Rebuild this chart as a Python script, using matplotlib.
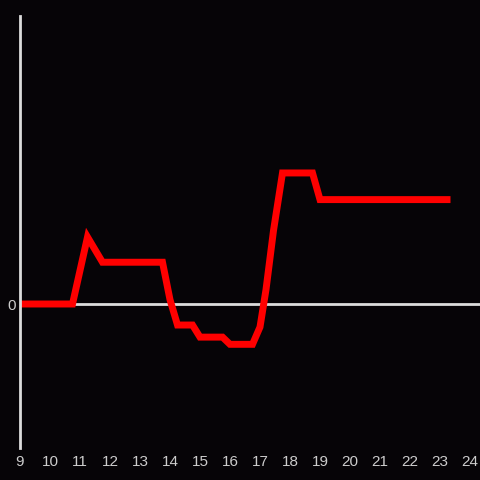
import matplotlib
matplotlib.use("Agg")
import matplotlib.pyplot as plt

# horas del día y variación (unidades relativas)
horas = [9.0, 10.75, 11.25, 11.75, 13.75, 14.0, 14.25, 14.75, 15.0, 15.75,
         16.0, 16.75, 17.0, 17.2, 17.45, 17.75, 18.75, 19.0, 23.35]
valores = [0.0, 0.0, 0.465, 0.29, 0.29, 0.03, -0.146, -0.146, -0.23, -0.23,
           -0.28, -0.28, -0.16, 0.1, 0.51, 0.91, 0.91, 0.725, 0.725]
ticks_x = list(range(9, 25))

fondo = "#060407"
gris = "#dcdcdc"

fig = plt.figure(figsize=(4.8, 4.8), dpi=100, facecolor=fondo)
ax = fig.add_axes([20 / 480, 32 / 480, 460 / 480, 432 / 480], facecolor=fondo)

ax.axhline(0, color=gris, lw=2, zorder=1)
ax.plot(horas, valores, color="#ff0000", lw=5,
        solid_joinstyle="miter", solid_capstyle="butt", zorder=2)

ax.set_xlim(9, 9 + 460 / 30)
ax.set_ylim(-1, 2)
ax.set_xticks(ticks_x)
ax.set_yticks([0])

for lado in ["top", "right", "bottom"]:
    ax.spines[lado].set_visible(False)
ax.spines["left"].set_color(gris)
ax.spines["left"].set_linewidth(2)

ax.tick_params(axis="both", length=0, colors="#cccccc", labelsize=11)
ax.tick_params(axis="x", pad=5)
ax.tick_params(axis="y", pad=3)
for lbl in ax.get_xticklabels() + ax.get_yticklabels():
    lbl.set_family("Liberation Sans")

fig.savefig("out.png", dpi=100, facecolor=fondo)
